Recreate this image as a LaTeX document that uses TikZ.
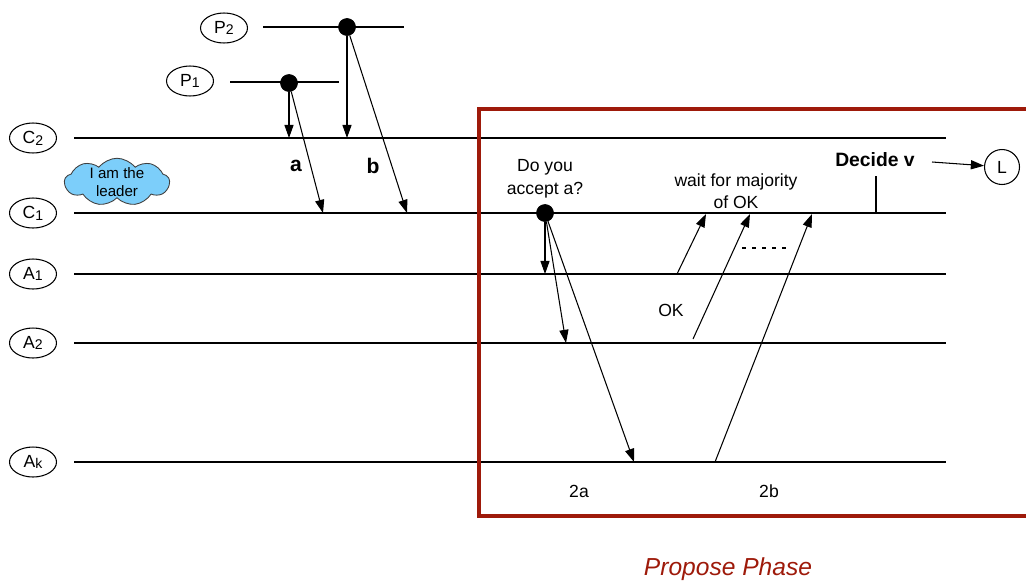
\documentclass[tikz,border=0pt]{standalone}
\usepackage{fontspec}
\setmainfont{Liberation Sans}
\usepackage{xcolor}
\usepackage{tikz}
\usetikzlibrary{positioning,arrows.meta,shapes.geometric,shapes.symbols}
\definecolor{phasered}{RGB}{158,26,10}
\definecolor{cloudblue}{RGB}{124,206,250}
\newcommand{\sub}[1]{\raisebox{-0.2ex}{\fontsize{8}{8}\selectfont #1}}

\begin{document}
\begin{tikzpicture}[x=0.02cm, y=-0.02cm, font=\fontsize{10}{13}\selectfont,
	proc/.style={draw, line width=0.6pt, ellipse, minimum width=0.94cm, minimum height=0.6cm, inner sep=0pt},
	tl/.style={line width=0.8pt},
	evt/.style={draw, circle, fill=black, minimum size=0.34cm, inner sep=0pt},
	msg/.style={line width=0.6pt, -{Triangle[length=7.5pt,width=5.2pt]}},
	lbl/.style={font=\fontsize{12}{14}\selectfont\bfseries}]
		\useasboundingbox (0,0) rectangle (1026,582);
		\foreach \n/\l/\s/\y in {c2/C/2/138, c1/C/1/213, a1/A/1/274, a2/A/2/343, ak/A/k/462} {
			\node[proc] (\n) at (33,\y) {\l\sub{\s}};
			\coordinate (\n-w) at (74,\y);
			\coordinate (\n-e) at (946,\y);
			\draw[tl] (\n-w) -- (\n-e);
		}
		\node[proc] (p2) at (224,28) {P\sub{2}};
		\coordinate (p2-w) at (263,27);
		\coordinate (p2-e) at (404,27);
		\draw[tl] (p2-w) -- (p2-e);
		\node[evt] (p2e) at (347,27) {};
		\node[proc] (p1) at (190,81) {P\sub{1}};
		\coordinate (p1-w) at (230,82);
		\coordinate (p1-e) at (339,82);
		\draw[tl] (p1-w) -- (p1-e);
		\node[evt] (p1e) at (289,83) {};
		\coordinate (ra) at (323,213);
		\coordinate (rb) at (407,213);
		\draw[msg] (p1e) -- (p1e |- c2-w);
		\draw[msg] (p1e) -- (ra);
		\draw[msg] (p2e) -- (p2e |- c2-w);
		\draw[msg] (p2e) -- (rb);
		\node[lbl] (la) at (296,166) {a};
		\node[lbl] (lb) at (373,166) {b};
		\node[cloud, cloud puffs=9, cloud puff arc=105, cloud ignores aspect, draw=black!75, line width=0.5pt, fill=cloudblue, minimum width=2.1cm, minimum height=0.95cm, inner sep=0pt] (leader) at (117,182) {};
		\node[align=center, font=\fontsize{8.6}{10.3}\selectfont] (leadertxt) at (leader) {I am the\\leader};
		\draw[phasered, line width=2.3pt] (1026,109) -| (479,516) -- (1026,516);
		\node[evt] (q) at (545,213) {};
		\node[above=0pt of q, align=center] (ask) {Do you\\accept a?};
		\coordinate (q2) at (566,343);
		\coordinate (qk) at (634,462);
		\draw[msg] (q) -- (q |- a1-w);
		\draw[msg] (q) -- (q2);
		\draw[msg] (q) -- (qk);
		\node[align=center, font=\fontsize{10}{12.5}\selectfont] (wait) at (736,191) {wait for majority\\of OK};
		\coordinate (ok1s) at (677,274);
		\coordinate (ok1e) at (706,214);
		\coordinate (ok2s) at (693,339);
		\coordinate (ok2e) at (750,214);
		\coordinate (ok3s) at (715,462);
		\coordinate (ok3e) at (812,214);
		\draw[msg] (ok1s) -- (ok1e);
		\draw[msg] (ok2s) -- (ok2e);
		\draw[msg] (ok3s) -- (ok3e);
		\coordinate (more-w) at (742,248);
		\coordinate (more-e) at (788,248);
		\draw[line width=0.6pt, dash pattern=on 2pt off 3.7pt] (more-w) -- (more-e);
		\node (ok) at (671,310) {OK};
		\node[font=\fontsize{11}{13}\selectfont\bfseries] (dec) at (875,160) {Decide v};
		\coordinate (tick) at (876,176);
		\draw[line width=0.6pt] (tick) -- (tick |- c1-w);
		\node[draw, line width=0.6pt, circle, minimum size=0.7cm, inner sep=0pt] (L) at (1002,167) {L};
		\coordinate (decout) at (932,162);
		\draw[msg] (decout) -- (L);
		\node (s2a) at (579,491) {2a};
		\node (s2b) at (769,491) {2b};
		\node[text=phasered, font=\fontsize{14}{16}\selectfont\itshape] (phase) at (728,569) {Propose Phase};
	\end{tikzpicture}
\end{document}
